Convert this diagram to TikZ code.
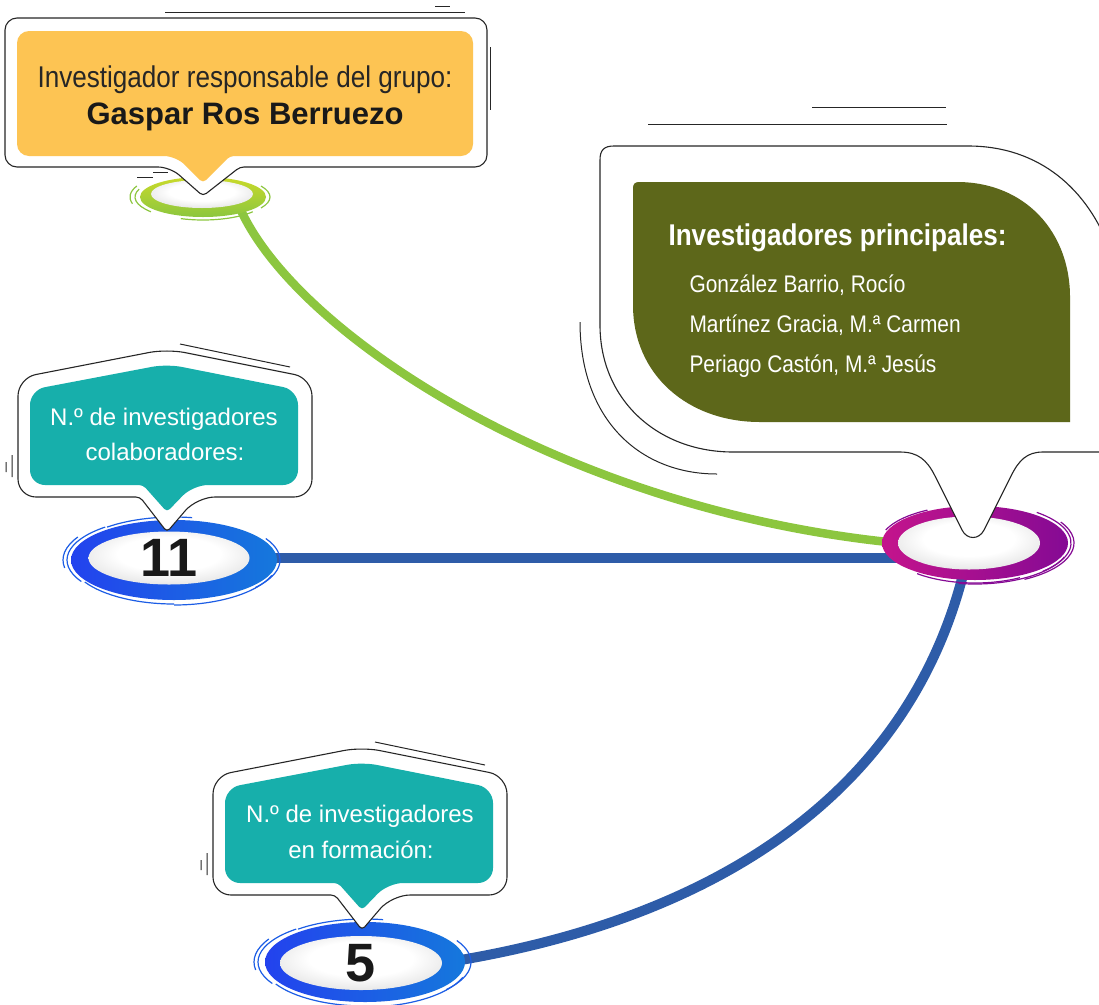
\documentclass[tikz,border=0pt]{standalone}
\usepackage{fontspec}
\setmainfont{Liberation Sans}
\newfontfamily\narrowfont[FakeStretch=0.87]{Liberation Sans}
\usetikzlibrary{shapes.geometric,backgrounds}

\definecolor{orangefill}{HTML}{FDC453}
\definecolor{olivefill}{HTML}{5D671A}
\definecolor{tealfill}{HTML}{17AFAB}
\definecolor{greenline}{HTML}{8CC63F}
\definecolor{greenlight}{HTML}{C9DA2A}
\definecolor{blueline}{HTML}{2E5CA8}
\definecolor{blueringA}{HTML}{2342EE}
\definecolor{blueringB}{HTML}{1578DC}
\definecolor{magringA}{HTML}{C4148C}
\definecolor{magringB}{HTML}{850A94}

\pgfdeclareradialshading{ringshade}{\pgfpoint{0bp}{5bp}}{color(0bp)=(white); color(16bp)=(white); color(32bp)=(black!12); color(44bp)=(black!38); color(50bp)=(black!62); color(72bp)=(black!62)}

\tikzset{
  tealbubble/.pic={
    \draw[deco] (13,-188) -- (123,-165) (-155,-77) -- (-155,-55) (-161,-70) -- (-161,-60);
    \draw[bubble, rounded corners=18] (-80,-35) -- (-149,-35) -- (-149,-154) -- (0,-183) -- (145,-154) -- (145,-35) -- (30,-35) [rounded corners=4] -- (0,0) -- (-27,-35) -- cycle;
    \fill[tealfill, rounded corners=15] (-80,-47) -- (-137,-47) -- (-137,-142) -- (0,-168) -- (131,-142) -- (131,-47) -- (26,-47) [rounded corners=4] -- (0,-20) -- (-24,-47) -- cycle;
  }
}

\begin{document}
\begin{tikzpicture}[x=1pt, y=-1pt,
  bubble/.style={draw=black!85, line width=1.1pt, fill=white},
  deco/.style={draw=black!85, line width=1pt},
  ring/.style={ellipse, shade, shading=ringshade, inner sep=0pt, font=\bfseries\fontsize{54}{54}\selectfont, text=black!90},
  link/.style={line width=9pt},
  brush/.style={line width=1.2pt},
  tealtext/.style={anchor=base, text=white, font=\fontsize{24}{28}\selectfont},
  namestext/.style={anchor=base west, text=white, font=\narrowfont\fontsize{24}{28}\selectfont}]
  \useasboundingbox (0,0) rectangle (1099,1004);

  % ring positions
  \coordinate (toppos) at (203,197);
  \coordinate (magpos) at (975,543);
  \coordinate (colpos) at (174,560);
  \coordinate (formpos) at (365,962);

  % coloured rings
  \shade[top color=greenlight, bottom color=greenline] (toppos) ellipse [x radius=63, y radius=20];
  \shade[left color=magringA, right color=magringB] (magpos) ellipse [x radius=93, y radius=37];
  \shade[left color=blueringA, right color=blueringB] (colpos) ellipse [x radius=103, y radius=40];
  \shade[left color=blueringA, right color=blueringB] (formpos) ellipse [x radius=100, y radius=40];

  \foreach \s/\e/\rx/\ry in {140/200/68/23, 165/205/73/26, -30/30/67/22, 40/110/65/23}
    \draw[brush, greenline] (toppos) ++({\rx*cos(\s)},{\ry*sin(\s)}) arc[start angle=\s, end angle=\e, x radius=\rx, y radius=\ry];
  \foreach \s/\e/\rx/\ry in {-50/45/96/40, -30/60/99/42, 20/100/95/41, 60/130/90/40, 200/240/95/38}
    \draw[brush, magringB] (magpos) ++({\rx*cos(\s)},{\ry*sin(\s)}) arc[start angle=\s, end angle=\e, x radius=\rx, y radius=\ry];
  \foreach \p in {colpos, formpos}
    \foreach \s/\e/\rx/\ry in {150/230/107/43, 170/210/111/46, -30/40/106/43, 20/90/104/45, 90/150/103/44, 230/280/104/43}
      \draw[brush, blueringA!50!blueringB] (\p) ++({\rx*cos(\s)},{\ry*sin(\s)}) arc[start angle=\s, end angle=\e, x radius=\rx, y radius=\ry];

  % inner discs
  \node[ring, minimum width=102, minimum height=28, xshift=-1pt, yshift=3pt] (topring) at (toppos) {};
  \node[ring, minimum width=142, minimum height=53, xshift=-6pt] (magring) at (magpos) {};
  \node[ring, minimum width=161, minimum height=53, xshift=-5pt, yshift=2pt] (colring) at (colpos) {11};
  \node[ring, minimum width=162, minimum height=54, xshift=-4pt, yshift=-1pt] (formring) at (formpos) {5};

  % links
  \begin{scope}[on background layer]
    \draw[link, greenline, line width=8.5pt] (topring.south east) .. controls (290,330) and (560,510) .. (magring.west);
    \draw[link, blueline, line width=10pt] (colring.east) -- (colring.east -| magring.center);
    \draw[link, blueline, line width=10pt] (magring.260) .. controls (910,790) and (720,920) .. (formring.east);
  \end{scope}

  % lead researcher
  \draw[deco] (165,12) -- (465,12) (435,6) -- (450,6) (490,47) -- (490,110) (137,177) -- (153,177) (153,172) -- (168,172);
  \draw[bubble, rounded corners=12] (300,167) -- (487,167) -- (487,18) -- (5,18) -- (5,167) -- (170,167) [rounded corners=4] -- (203,196) -- (240,167) -- cycle;
  \fill[orangefill, rounded corners=12] (300,156) -- (473,156) -- (473,31) -- (17,31) -- (17,156) -- (176,156) [rounded corners=4] -- (203,183) -- (230,156) -- cycle;
  \node[anchor=base, font=\narrowfont\fontsize{30}{34}\selectfont, text=black!85] (leadtitle) at (245,87) {Investigador responsable del grupo:};
  \node[anchor=base, font=\bfseries\fontsize{31}{34}\selectfont, text=black!90] (leadname) at (245,124) {Gaspar Ros Berruezo};

  % main researchers
  \draw[deco] (812,107) -- (946,107) (648,124) -- (947,124);
  \draw[deco] (580,322) .. controls (580,420) and (640,474) .. (717,474);
  \draw[bubble] (1110,452) -- (1043,452) .. controls (1027,452) and (1019,460) .. (1011,476) -- (984,530) .. controls (979,540) and (967,540) .. (962,530) -- (935,476) .. controls (927,460) and (918,452) .. (900,452) -- (733,452) .. controls (658,452) and (600,400) .. (600,325) -- (600,160) .. controls (600,150) and (604,146) .. (614,146) -- (968,146) .. controls (1040,146) and (1088,190) .. (1110,250);
  \fill[olivefill] (639,182) -- (957,182) .. controls (1025,182) and (1070,232) .. (1070,297) -- (1070,422) -- (760,422) .. controls (688,422) and (633,375) .. (633,305) -- (633,188) .. controls (633,184) and (635,182) .. (639,182) -- cycle;
  \node[anchor=base west, font=\narrowfont\bfseries\fontsize{30}{34}\selectfont, text=white] (maintitle) at (665,245) {Investigadores principales:};
  \node[namestext] (name1) at (686,292) {González Barrio, Rocío};
  \node[namestext] (name2) at (686,332) {Martínez Gracia, M.ª Carmen};
  \node[namestext] (name3) at (686,372) {Periago Castón, M.ª Jesús};

  % collaborators and trainees
  \pic at (167,532) {tealbubble};
  \pic at (362,930) {tealbubble};
  \node[tealtext] (colab1) at (164,425) {N.º de investigadores};
  \node[tealtext] (colab2) at (165,460) {colaboradores:};
  \node[tealtext] (form1) at (360,822) {N.º de investigadores};
  \node[tealtext] (form2) at (361,858) {en formación:};
\end{tikzpicture}
\end{document}
